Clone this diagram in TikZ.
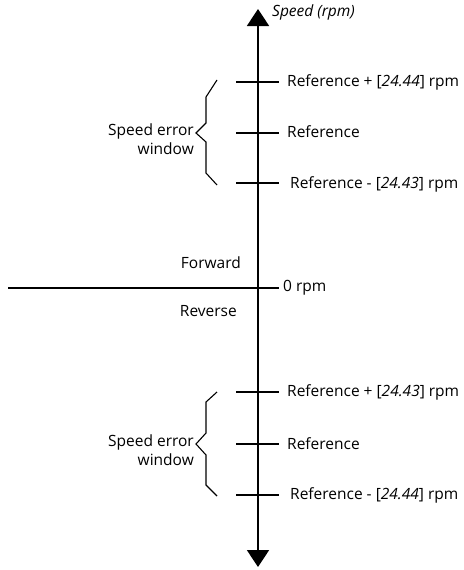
\documentclass[tikz,border=0pt]{standalone}
\usepackage{fontspec}
\setmainfont{Open Sans}
\usetikzlibrary{arrows.meta}
\begin{document}
\begin{tikzpicture}[x=1pt,y=-1pt,
  axis/.style={line width=1.8pt},
  tick/.style={line width=1.6pt},
  brace/.style={line width=1.1pt,line join=miter},
  lbl/.style={font=\fontsize{15.5}{18}\selectfont,inner sep=0pt,anchor=west},
  side/.style={font=\fontsize{15.5}{18.5}\selectfont,inner sep=0pt,align=right,anchor=east}]
\useasboundingbox (0,0) rectangle (463,570);
% axis
\coordinate (top) at (258,9);
\coordinate (bot) at (258,567);
\draw[axis,-{Triangle[width=22pt,length=17pt]}] (258,288) -- (top);
\draw[axis,-{Triangle[width=22pt,length=17pt]}] (258,288) -- (bot);
\node[font=\fontsize{15.5}{18}\selectfont\itshape,inner sep=0pt,anchor=west] (speed) at (272,12) {Speed (rpm)};
% zero line
\coordinate (zl) at (8,288);
\coordinate (zr) at (279,288);
\draw[axis] (zl) -- (zr);
\node[lbl] (zero) at (283,288) {0 rpm};
\node[side,anchor=east] (fwd) at (241,263) {Forward};
\node[side,anchor=east] (rev) at (237,311) {Reverse};
% ticks
\foreach \y/\n in {82/ua,133/ub,183/uc,392/la,444/lb,495/lc}{
  \coordinate (\n l) at (236,\y);
  \coordinate (\n r) at (279,\y);
  \draw[tick] (\n l) -- (\n r);
}
\node[lbl] (t1) at (287,82) {Reference + [\textit{24.44}] rpm};
\node[lbl] (t2) at (287,132) {Reference};
\node[lbl] (t3) at (290,184) {Reference - [\textit{24.43}] rpm};
\node[lbl] (t4) at (287,392) {Reference + [\textit{24.43}] rpm};
\node[lbl] (t5) at (287,444) {Reference};
\node[lbl] (t6) at (290,495) {Reference - [\textit{24.44}] rpm};
% braces
\draw[brace] (217,80) -- (206,97) -- (206,123) -- (196,133) -- (206,142) -- (206,173) -- (217,185);
\draw[brace] (217,392) -- (206,402) -- (206,433) -- (196,444) -- (206,455) -- (206,485) -- (217,496);
\node[side] (sew1) at (194,139) {Speed error\\window};
\node[side] (sew2) at (194,450) {Speed error\\window};
\end{tikzpicture}
\end{document}
